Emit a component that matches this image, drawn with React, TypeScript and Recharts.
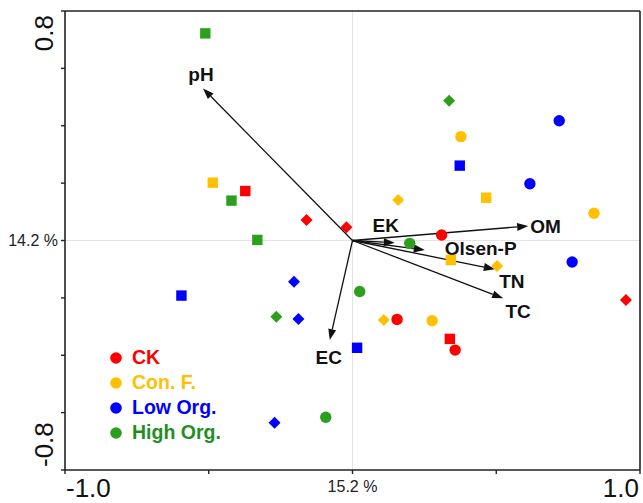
import React from "react";
import { ScatterChart, Scatter, XAxis, YAxis, ReferenceLine } from "recharts";

// sample scores, per treatment and marker shape
const ckCircle = [{ x: 0.31, y: 0.019 }, { x: 0.155, y: -0.275 }, { x: 0.357, y: -0.382 }];
const ckSquare = [{ x: -0.373, y: 0.1725 }, { x: 0.3386, y: -0.343 }];
const ckDiamond = [{ x: -0.16, y: 0.0715 }, { x: -0.021, y: 0.046 }, { x: 0.951, y: -0.207 }];

const cfCircle = [{ x: 0.377, y: 0.362 }, { x: 0.84, y: 0.095 }, { x: 0.277, y: -0.2795 }];
const cfSquare = [{ x: -0.486, y: 0.2015 }, { x: 0.465, y: 0.149 }, { x: 0.342, y: -0.068 }];
const cfDiamond = [{ x: 0.159, y: 0.141 }, { x: 0.109, y: -0.277 }, { x: 0.503, y: -0.089 }];

const loCircle = [{ x: 0.719, y: 0.4176 }, { x: 0.617, y: 0.198 }, { x: 0.764, y: -0.075 }];
const loSquare = [{ x: -0.595, y: -0.192 }, { x: 0.016, y: -0.374 }, { x: 0.373, y: 0.261 }];
const loDiamond = [{ x: -0.2035, y: -0.1436 }, { x: -0.188, y: -0.2736 }, { x: -0.271, y: -0.635 }];

const hoCircle = [{ x: 0.199, y: -0.01 }, { x: 0.025, y: -0.178 }, { x: -0.093, y: -0.616 }];
const hoSquare = [{ x: -0.512, y: 0.722 }, { x: -0.421, y: 0.139 }, { x: -0.331, y: 0.002 }];
const hoDiamond = [{ x: 0.336, y: 0.487 }, { x: -0.265, y: -0.2656 }];

// environmental loadings
const loadNames = ["pH", "EC", "EK", "Olsen-P", "OM", "TN", "TC"];
const loadX = [-0.52, -0.079, 0.147, 0.2515, 0.611, 0.495, 0.524];
const loadY = [0.53, -0.347, -0.008, -0.033, 0.0505, -0.1, -0.2015];

const groupNames = ["CK", "Con. F.", "Low Org.", "High Org."];
const xTicks = [-1, -0.5, 0, 0.5, 1];
const yTicks = [-0.8, -0.6, -0.4, -0.2, 0, 0.2, 0.4, 0.6, 0.8];
const xAxisPct = "15.2 %";
const yAxisPct = "14.2 %";

const RED = "#ff0000";
const GOLD = "#ffc000";
const BLUE = "#0000ff";
const GREEN = "#2ca01c";
const markerColors = [RED, GOLD, BLUE, GREEN];
const textColors = [RED, GOLD, BLUE, "#1f8f1f"];

const FONT = "'Liberation Sans', Arial, sans-serif";

// label placement relative to arrow tip: [dx, dy, anchor]
const labelPos: Record<string, [number, number, string]> = {
  pH: [-2, -7, "middle"],
  EC: [-1, 24, "middle"],
  EK: [-9, -11, "middle"],
  "Olsen-P": [20, 5, "start"],
  OM: [2, 7, "start"],
  TN: [17, 19, "middle"],
  TC: [15, 20, "middle"],
};

const CircleShape = (p: any) => <circle cx={p.cx} cy={p.cy} r={5.7} fill={p.fill} />;
const SquareShape = (p: any) => (
  <rect x={p.cx - 5.2} y={p.cy - 5.2} width={10.4} height={10.4} fill={p.fill} />
);
const DiamondShape = (p: any) => {
  const r = 6;
  return (
    <polygon
      points={`${p.cx},${p.cy - r} ${p.cx + r},${p.cy} ${p.cx},${p.cy + r} ${p.cx - r},${p.cy}`}
      fill={p.fill}
    />
  );
};

const makeArrow = (name: string) => (p: any) => {
  const { x1, y1, x2, y2 } = p;
  const a = Math.atan2(y2 - y1, x2 - x1);
  const L = 11;
  const W = 4;
  const bx = x2 - L * Math.cos(a);
  const by = y2 - L * Math.sin(a);
  const nx = -Math.sin(a) * W;
  const ny = Math.cos(a) * W;
  const [dx, dy, anchor] = labelPos[name];
  return (
    <g>
      <line x1={x1} y1={y1} x2={bx} y2={by} stroke="#111" strokeWidth={1.3} />
      <polygon points={`${x2},${y2} ${bx + nx},${by + ny} ${bx - nx},${by - ny}`} fill="#111" />
      <text
        x={x2 + dx}
        y={y2 + dy}
        textAnchor={anchor as any}
        fontFamily={FONT}
        fontWeight="bold"
        fontSize={19}
        fill="#111"
      >
        {name}
      </text>
    </g>
  );
};

const XTick = (p: any) => {
  const v = p.payload.value;
  if (v === 0)
    return (
      <text x={p.x} y={p.y + 17.5} textAnchor="middle" fontFamily={FONT} fontSize={16} fill="#222">
        {xAxisPct}
      </text>
    );
  if (v === -1 || v === 1)
    return (
      <text
        x={v === -1 ? p.x + 1 : p.x - 1}
        y={p.y + 23}
        textAnchor={v === -1 ? "start" : "end"}
        fontFamily={FONT}
        fontSize={26}
        fill="#111"
      >
        {v.toFixed(1)}
      </text>
    );
  return <g />;
};

const YTick = (p: any) => {
  const v = p.payload.value;
  if (v === 0)
    return (
      <text x={p.x - 3} y={p.y + 5.5} textAnchor="end" fontFamily={FONT} fontSize={16} fill="#222">
        {yAxisPct}
      </text>
    );
  if (Math.abs(v - 0.8) < 1e-9 || Math.abs(v + 0.8) < 1e-9) {
    const top = v > 0;
    const x = p.x - 8;
    const y = top ? p.y + 4 : p.y - 3;
    return (
      <text
        x={x}
        y={y}
        transform={`rotate(-90, ${x}, ${y})`}
        textAnchor={top ? "end" : "start"}
        fontFamily={FONT}
        fontSize={26}
        fill="#111"
      >
        {v.toFixed(1)}
      </text>
    );
  }
  return <g />;
};

const LegendBox = () => (
  <div
    style={{
      position: "absolute",
      left: 110,
      top: 345,
      fontFamily: FONT,
      fontWeight: "bold",
      fontSize: 19.5,
    }}
  >
    {groupNames.map((g, i) => (
      <div key={g} style={{ display: "flex", alignItems: "center", height: 25 }}>
        <svg width={12} height={12} style={{ marginRight: 10 }}>
          <circle cx={6} cy={6} r={5.8} fill={markerColors[i]} />
        </svg>
        <span style={{ color: textColors[i], lineHeight: "25px" }}>{g}</span>
      </div>
    ))}
  </div>
);

const series = [
  [ckCircle, ckSquare, ckDiamond],
  [cfCircle, cfSquare, cfDiamond],
  [loCircle, loSquare, loDiamond],
  [hoCircle, hoSquare, hoDiamond],
];
const shapes = [CircleShape, SquareShape, DiamondShape];

export default function App() {
  return (
    <div style={{ position: "relative", width: 643, height: 503 }}>
      <style>{"body{margin:0}"}</style>
      <ScatterChart width={643} height={503} margin={{ top: 11, right: 3, bottom: 0, left: 0 }}>
        <XAxis
          type="number"
          dataKey="x"
          domain={[-1, 1]}
          ticks={xTicks}
          interval={0}
          allowDataOverflow
          height={33}
          tickSize={4}
          tickMargin={0}
          axisLine={{ stroke: "#222", strokeWidth: 1.6 }}
          tickLine={{ stroke: "#222", strokeWidth: 1.4 }}
          tick={XTick}
        />
        <YAxis
          type="number"
          dataKey="y"
          domain={[-0.8, 0.8]}
          ticks={yTicks}
          interval={0}
          allowDataOverflow
          width={65}
          tickSize={4}
          tickMargin={0}
          axisLine={{ stroke: "#222", strokeWidth: 1.6 }}
          tickLine={{ stroke: "#222", strokeWidth: 1.4 }}
          tick={YTick}
        />
        <ReferenceLine x={0} stroke="#e4e4e4" strokeWidth={1} />
        <ReferenceLine y={0} stroke="#e4e4e4" strokeWidth={1} />
        <ReferenceLine y={0.8} stroke="#222" strokeWidth={1.6} />
        <ReferenceLine x={1} stroke="#222" strokeWidth={1.6} />
        {loadNames.map((n, i) => (
          <ReferenceLine
            key={n}
            segment={[
              { x: 0, y: 0 },
              { x: loadX[i], y: loadY[i] },
            ]}
            shape={makeArrow(n)}
          />
        ))}
        {series.map((grp, gi) =>
          grp.map((d, si) => (
            <Scatter
              key={`${gi}-${si}`}
              data={d}
              fill={markerColors[gi]}
              shape={shapes[si]}
              isAnimationActive={false}
              legendType="none"
            />
          ))
        )}
      </ScatterChart>
      <LegendBox />
    </div>
  );
}
